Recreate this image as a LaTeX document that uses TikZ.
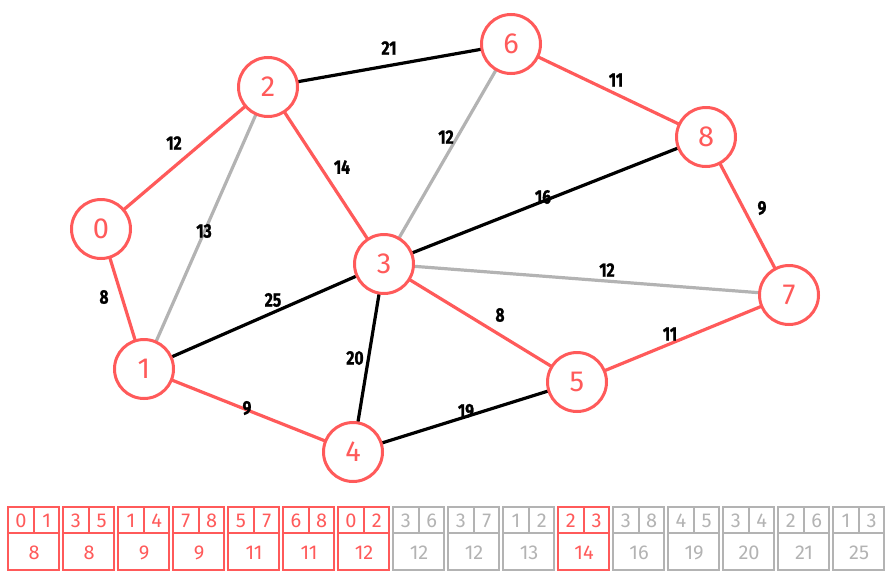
\documentclass[tikz,border=0pt]{standalone}
\usepackage{fontspec}
\setsansfont{Fira Sans}
\newfontfamily\weightfont[FakeStretch=0.8, BoldFeatures={FakeBold=1.2}]{Fira Sans}
\usepackage{tikz}

\definecolor{mstred}{HTML}{FF5A5A}
\definecolor{skipgray}{HTML}{B3B3B3}

\begin{document}
\begin{tikzpicture}[
    x=1pt, y=-1pt,
    vertex/.style={circle, draw=mstred, fill=white, line width=3pt, minimum size=59pt, inner sep=0pt, text=mstred, font=\sffamily\fontsize{29}{29}\selectfont},
    treeedge/.style={draw=mstred, line width=3.2pt},
    grayedge/.style={draw=skipgray, line width=3.2pt},
    blackedge/.style={draw=black, line width=3.2pt},
    weight/.style={font=\weightfont\bfseries\fontsize{19.5}{19.5}\selectfont, inner sep=0pt},
    recline/.style={line width=1.8pt},
    rectext/.style={inner sep=0pt, font=\sffamily\fontsize{20}{20}\selectfont}
]
\useasboundingbox (0,0) rectangle (894,581);

% Edges (drawn first, vertices on top)
\coordinate (p0) at (101,229);
\coordinate (p1) at (144,369);
\coordinate (p2) at (268,87);
\coordinate (p3) at (384,264);
\coordinate (p4) at (353,452);
\coordinate (p5) at (577,382);
\coordinate (p6) at (511,44);
\coordinate (p7) at (789,295);
\coordinate (p8) at (706,137);

\draw[grayedge] (p1) -- (p2);
\draw[grayedge] (p3) -- (p6);
\draw[grayedge] (p3) -- (p7);
\draw[blackedge] (p2) -- (p6);
\draw[blackedge] (p3) -- (p8);
\draw[blackedge] (p1) -- (p3);
\draw[blackedge] (p3) -- (p4);
\draw[blackedge] (p4) -- (p5);
\draw[treeedge] (p0) -- (p1);
\draw[treeedge] (p0) -- (p2);
\draw[treeedge] (p2) -- (p3);
\draw[treeedge] (p3) -- (p5);
\draw[treeedge] (p1) -- (p4);
\draw[treeedge] (p6) -- (p8);
\draw[treeedge] (p7) -- (p8);
\draw[treeedge] (p5) -- (p7);

% Vertices
\node[vertex] (n0) at (p0) {0};
\node[vertex] (n1) at (p1) {1};
\node[vertex] (n2) at (p2) {2};
\node[vertex] (n3) at (p3) {3};
\node[vertex] (n4) at (p4) {4};
\node[vertex] (n5) at (p5) {5};
\node[vertex] (n6) at (p6) {6};
\node[vertex] (n7) at (p7) {7};
\node[vertex] (n8) at (p8) {8};

% Edge weights
\node[weight] (w02) at (174,143) {12};
\node[weight] (w12) at (204,231) {13};
\node[weight] (w23) at (342,167) {14};
\node[weight] (w26) at (389,48) {21};
\node[weight] (w36) at (446,137) {12};
\node[weight] (w68) at (616,80) {11};
\node[weight] (w38) at (543,197) {16};
\node[weight] (w78) at (762,208) {9};
\node[weight] (w37) at (607,270) {12};
\node[weight] (w01) at (104,297) {8};
\node[weight] (w13) at (273,300) {25};
\node[weight] (w34) at (355,358) {20};
\node[weight] (w35) at (500,315) {8};
\node[weight] (w57) at (670,334) {11};
\node[weight] (w14) at (247,408) {9};
\node[weight] (w45) at (466,411) {19};

% Sorted edge list
\foreach \a/\b/\w/\c [count=\i from 0] in {0/1/8/mstred, 3/5/8/mstred, 1/4/9/mstred, 7/8/9/mstred,
    5/7/11/mstred, 6/8/11/mstred, 0/2/12/mstred, 3/6/12/skipgray, 3/7/12/skipgray, 1/2/13/skipgray,
    2/3/14/mstred, 3/8/16/skipgray, 4/5/19/skipgray, 3/4/20/skipgray, 2/6/21/skipgray, 1/3/25/skipgray}{
  \pgfmathsetmacro{\xr}{8.3+55*\i}
  \draw[recline, draw=\c] (\xr,507) rectangle ++(51,63);
  \draw[recline, draw=\c] (\xr,533) -- ++(51,0);
  \draw[recline, draw=\c] (\xr+25.5,507) -- ++(0,26);
  \node[rectext, text=\c] (ra\i) at (\xr+12.6,521) {\a};
  \node[rectext, text=\c] (rb\i) at (\xr+38.4,521) {\b};
  \node[rectext, text=\c] (rw\i) at (\xr+25.8,553) {\w};
}

\end{tikzpicture}
\end{document}
